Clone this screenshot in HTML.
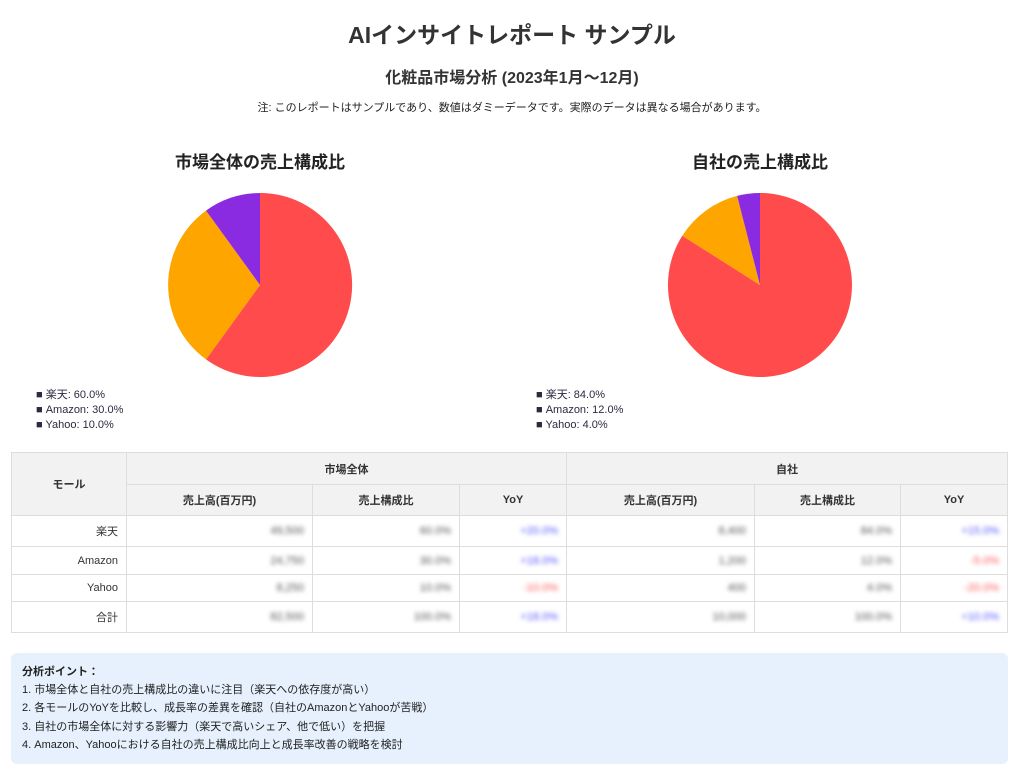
<!DOCTYPE html>
<html><head><meta charset="utf-8"><style>
*{margin:0;padding:0;box-sizing:border-box}
body{width:1024px;height:771px;background:#fff;font-family:"Liberation Sans","Noto Sans CJK JP",sans-serif;color:#333;position:relative;overflow:hidden}
.a{position:absolute;white-space:nowrap}
.c{text-align:center}
table{position:absolute;left:11px;top:452px;width:997px;border-collapse:collapse;font-size:11px}
td,th{border:1px solid #ddd;padding:0 8px}
th{background:#f2f2f2;font-weight:bold;text-align:center}
td{text-align:right}
.b{filter:blur(2px);color:#555}
.p{filter:blur(2px);color:#55f}
.n{filter:blur(2px);color:#f55}
.lg{font-size:11px;line-height:15px;color:#2a2a40}
</style></head><body>
<div class="a c" style="left:0;width:1024px;top:16px;font-size:23px;font-weight:bold">AIインサイトレポート サンプル</div>
<div class="a c" style="left:0;width:1024px;top:64px;font-size:16px;font-weight:bold">化粧品市場分析 (2023年1月～12月)</div>
<div class="a c" style="left:0;width:1024px;top:99px;font-size:11px;color:#222">注: このレポートはサンプルであり、数値はダミーデータです。実際のデータは異なる場合があります。</div>
<div class="a c" style="left:110px;width:300px;top:148px;font-size:17px;font-weight:bold;color:#222">市場全体の売上構成比</div>
<div class="a c" style="left:610px;width:300px;top:148px;font-size:17px;font-weight:bold;color:#222">自社の売上構成比</div>
<svg class="a" style="left:0;top:0" width="1024" height="440">
<path d="M260,285 L260,193 A92,92 0 1,1 206,359.4 Z" fill="#ff4b4b"/>
<path d="M260,285 L206,359.4 A92,92 0 0,1 206,210.6 Z" fill="#ffa500"/>
<path d="M260,285 L206,210.6 A92,92 0 0,1 260,193 Z" fill="#8a2be2"/>
<path d="M760,285 L760,193 A92,92 0 1,1 682.3,235.7 Z" fill="#ff4b4b"/>
<path d="M760,285 L682.3,235.7 A92,92 0 0,1 737.1,195.9 Z" fill="#ffa500"/>
<path d="M760,285 L737.1,195.9 A92,92 0 0,1 760,193 Z" fill="#8a2be2"/>
</svg>
<div class="a lg" style="left:36px;top:388px">■ 楽天: 60.0%<br>■ Amazon: 30.0%<br>■ Yahoo: 10.0%</div>
<div class="a lg" style="left:536px;top:388px">■ 楽天: 84.0%<br>■ Amazon: 12.0%<br>■ Yahoo: 4.0%</div>
<table>
<tr style="height:32px"><th rowspan="2" style="width:115px">モール</th><th colspan="3">市場全体</th><th colspan="3">自社</th></tr>
<tr style="height:31px"><th style="width:186px">売上高(百万円)</th><th style="width:147px">売上構成比</th><th style="width:107px">YoY</th><th style="width:188px">売上高(百万円)</th><th style="width:146px">売上構成比</th><th>YoY</th></tr>
<tr style="height:31px"><td>楽天</td><td><span class="b">49,500</span></td><td><span class="b">60.0%</span></td><td><span class="p">+20.0%</span></td><td><span class="b">8,400</span></td><td><span class="b">84.0%</span></td><td><span class="p">+15.0%</span></td></tr>
<tr style="height:28px"><td>Amazon</td><td><span class="b">24,750</span></td><td><span class="b">30.0%</span></td><td><span class="p">+18.0%</span></td><td><span class="b">1,200</span></td><td><span class="b">12.0%</span></td><td><span class="n">-5.0%</span></td></tr>
<tr style="height:27px"><td>Yahoo</td><td><span class="b">8,250</span></td><td><span class="b">10.0%</span></td><td><span class="n">-10.0%</span></td><td><span class="b">400</span></td><td><span class="b">4.0%</span></td><td><span class="n">-20.0%</span></td></tr>
<tr style="height:31px"><td>合計</td><td><span class="b">82,500</span></td><td><span class="b">100.0%</span></td><td><span class="p">+18.0%</span></td><td><span class="b">10,000</span></td><td><span class="b">100.0%</span></td><td><span class="p">+10.0%</span></td></tr>
</table>
<div class="a" style="left:11px;top:653px;width:997px;height:111px;background:#e6f1fd;border-radius:6px;padding:10px 11px;font-size:11px;line-height:18.2px;color:#222">
<b>分析ポイント：</b><br>1. 市場全体と自社の売上構成比の違いに注目（楽天への依存度が高い）<br>2. 各モールのYoYを比較し、成長率の差異を確認（自社のAmazonとYahooが苦戦）<br>3. 自社の市場全体に対する影響力（楽天で高いシェア、他で低い）を把握<br>4. Amazon、Yahooにおける自社の売上構成比向上と成長率改善の戦略を検討
</div>
</body></html>
